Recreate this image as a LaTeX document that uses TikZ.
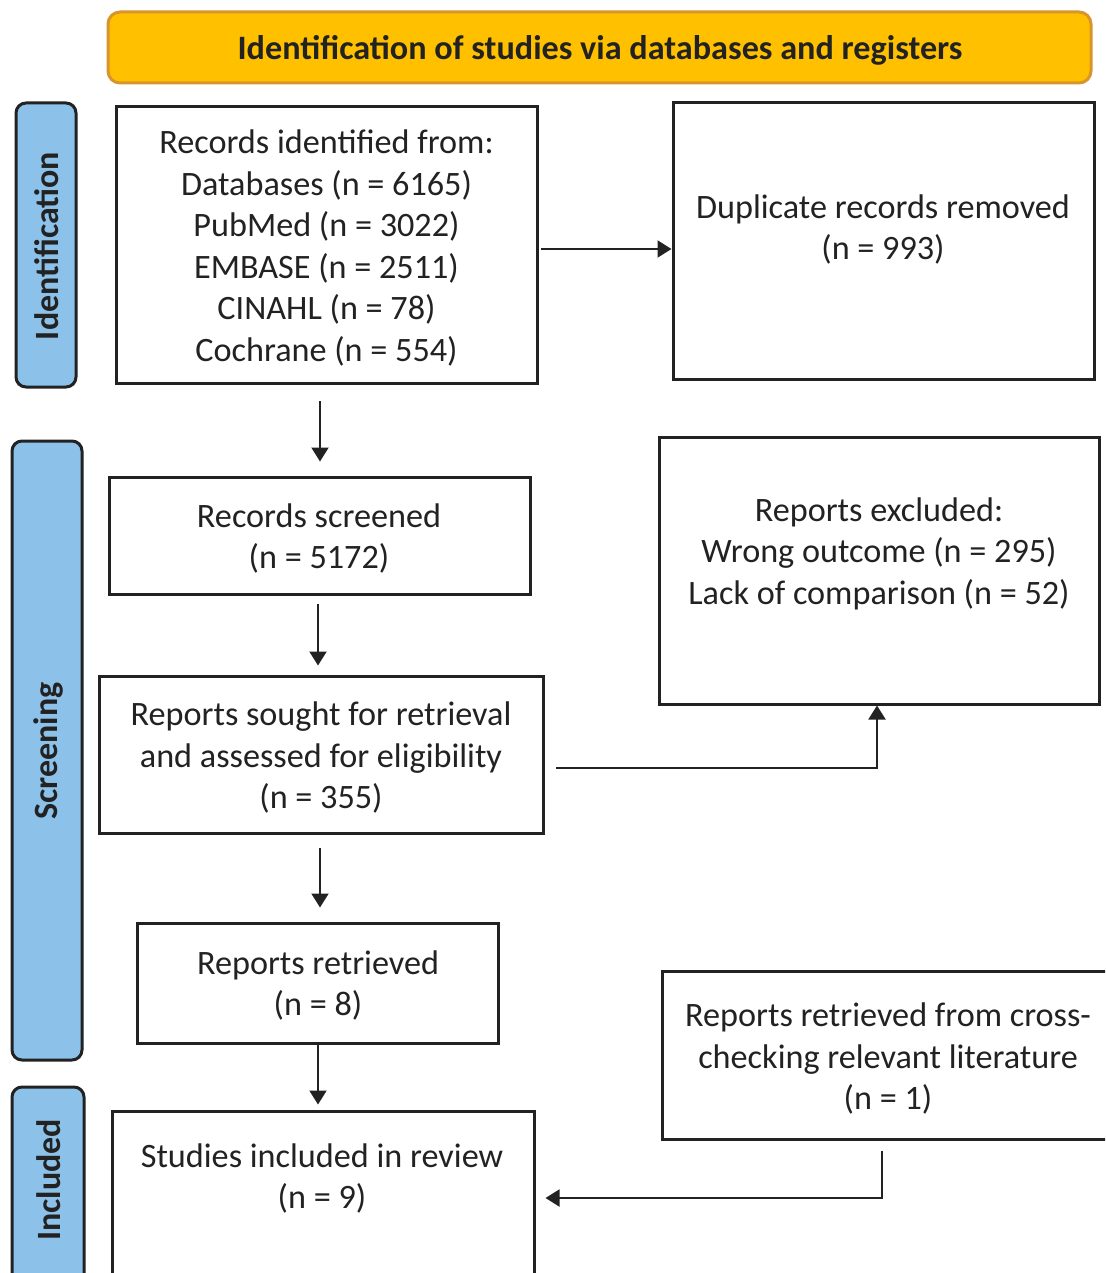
\documentclass[tikz,border=0pt]{standalone}
\usepackage{fontspec}
\setmainfont{Carlito}
\usetikzlibrary{arrows.meta}
\definecolor{gold}{HTML}{FFC000}
\definecolor{goldline}{HTML}{D9952B}
\definecolor{phase}{HTML}{8CC2EA}
\definecolor{ink}{HTML}{222222}
\begin{document}
\begin{tikzpicture}[x=1pt,y=-1pt,
  box/.style={draw=ink, line width=3pt, fill=white, inner sep=0pt},
  label/.style={inner sep=0pt, align=center, text=ink, font=\fontsize{34.2}{41.5}\selectfont},
  phasebox/.style={draw=ink, line width=3pt, fill=phase, rounded corners=10pt, inner sep=0pt},
  phasetext/.style={rotate=90, inner sep=0pt, text=ink, font=\fontsize{34}{38}\selectfont\bfseries},
  arr/.style={draw=ink, line width=2pt, -{Triangle[length=14pt,width=17pt]}}
]
\useasboundingbox (0,0) rectangle (1105,1273);
\clip (0,0) rectangle (1105,1273);
\fill[white] (0,0) rectangle (1105,1273);

% banner
\node[draw=goldline, line width=3pt, fill=gold, rounded corners=12pt, minimum width=983pt, minimum height=71pt, inner sep=0pt] (banner) at (599.5,47.5) {};
\node[inner sep=0pt, text=ink, font=\fontsize{34.2}{38}\selectfont\bfseries] (bannertext) at (600,50) {Identification of studies via databases and registers};

% phase labels
\node[phasebox, minimum width=60pt, minimum height=284pt] (pid) at (46,245) {};
\node[phasetext] (pidt) at (47,246) {Identification};
\node[phasebox, minimum width=70pt, minimum height=619pt] (psc) at (47,750.5) {};
\node[phasetext] (psct) at (48,751) {Screening};
\node[phasebox, minimum width=72pt, minimum height=213pt] (pin) at (48,1193.5) {};
\node[phasetext] (pint) at (49,1180) {Included};

% boxes
\node[box, minimum width=421pt, minimum height=276pt] (rec) at (326.5,245) {};
\node[label] (rect) at (326.5,248) {Records identified from:\\Databases (n = 6165)\\PubMed (n = 3022)\\EMBASE (n = 2511)\\CINAHL (n = 78)\\Cochrane (n = 554)};

\node[box, minimum width=421pt, minimum height=276pt] (dup) at (883.5,241) {};
\node[label] (dupt) at (883,229.5) {Duplicate records removed\\(n = 993)};

\node[box, minimum width=421pt, minimum height=117pt] (scr) at (319.5,535.5) {};
\node[label] (scrt) at (319,538.5) {Records screened\\(n = 5172)};

\node[box, minimum width=444pt, minimum height=157pt] (sou) at (321,754.5) {};
\node[label] (sout) at (321,757.5) {Reports sought for retrieval\\and assessed for eligibility\\(n = 355)};

\node[box, minimum width=440pt, minimum height=267pt] (exc) at (879,570.5) {};
\node[label] (exct) at (879,553.5) {Reports excluded:\\Wrong outcome (n = 295)\\Lack of comparison (n = 52)};

\node[box, minimum width=361pt, minimum height=120pt] (ret) at (317.5,983) {};
\node[label] (rett) at (318,985.5) {Reports retrieved\\(n = 8)};

\node[box, minimum width=446pt, minimum height=168pt] (crs) at (885,1055) {};
\node[label] (crst) at (888,1058.5) {Reports retrieved from cross-\\checking relevant literature\\(n = 1)};

\node[box, minimum width=422pt, minimum height=190pt] (inc) at (323,1206) {};
\node[label] (inct) at (322,1178.5) {Studies included in review\\(n = 9)};

% connectors
\coordinate (a1s) at (541,249);
\draw[arr] (a1s) -- (dup.west |- a1s);

\coordinate (a2s) at (320,401);
\draw[arr, shorten >=14pt] (a2s) -- (a2s |- scr.north);

\coordinate (a3s) at (318,604);
\draw[arr, shorten >=9pt] (a3s) -- (a3s |- sou.north);

\coordinate (a4s) at (556,768);
\coordinate (a4c) at (877,768);
\draw[arr] (a4s) -- (a4c) -- (a4c |- exc.south);

\coordinate (a5s) at (320,848);
\draw[arr, shorten >=14pt] (a5s) -- (a5s |- ret.north);

\coordinate (a6s) at (318,1043);
\draw[arr, shorten >=5pt] (a6s) -- (a6s |- inc.north);

\coordinate (a7s) at (882,1151);
\coordinate (a7c) at (882,1198);
\draw[arr, shorten >=10pt] (a7s) -- (a7c) -- (inc.east |- a7c);
\end{tikzpicture}
\end{document}
